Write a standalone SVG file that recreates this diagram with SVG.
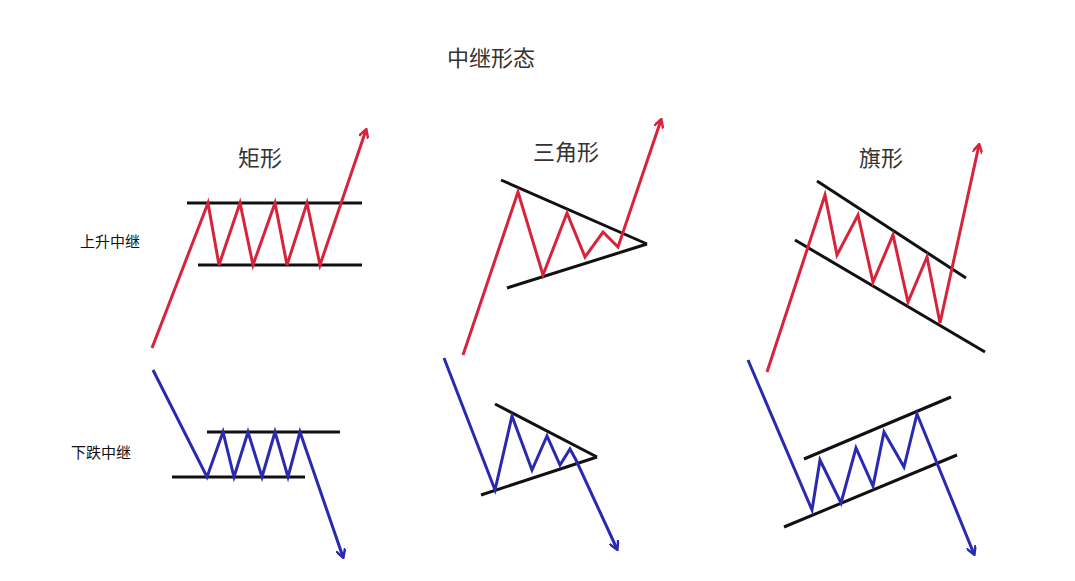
<svg xmlns="http://www.w3.org/2000/svg" width="1075" height="581" viewBox="0 0 1075 581">
<defs>
<style>
text{font-family:"Noto Sans CJK SC",sans-serif;fill:#333;text-anchor:middle}
.t{font-size:22px}.s{font-size:15px;fill:#111}
.k{stroke:#111;stroke-width:3;fill:none}
.r{stroke:#d8243a;stroke-width:3;fill:none;stroke-linejoin:miter}
.b{stroke:#2a2ab0;stroke-width:3;fill:none}
</style>
<marker id="ar" markerWidth="10" markerHeight="10" refX="8" refY="5" orient="auto" markerUnits="userSpaceOnUse" viewBox="0 0 10 10"><path d="M0,0 L9,5 L0,10" fill="none" stroke="#d8243a" stroke-width="2.5"/></marker>
<marker id="ab" markerWidth="10" markerHeight="10" refX="8" refY="5" orient="auto" markerUnits="userSpaceOnUse" viewBox="0 0 10 10"><path d="M0,0 L9,5 L0,10" fill="none" stroke="#2a2ab0" stroke-width="2.5"/></marker>
</defs>
<rect width="1075" height="581" fill="#fff"/>
<text class="t" x="491" y="66">中继形态</text>
<text class="t" x="260" y="166">矩形</text>
<text class="t" x="566" y="160">三角形</text>
<text class="t" x="881" y="166">旗形</text>
<text class="s" x="110" y="247">上升中继</text>
<text class="s" x="101" y="458">下跌中继</text>
<g id="rect-up">
<line class="k" x1="187" y1="203" x2="362" y2="203"/>
<line class="k" x1="198" y1="265" x2="362" y2="265"/>
<polyline class="r" marker-end="url(#ar)" points="152,348 208,203 219,265 240,203 253,265 275,203 287,265 307,203 320,265 366,130"/>
</g>
<g id="tri-up">
<line class="k" x1="501" y1="180" x2="647" y2="244"/>
<line class="k" x1="507" y1="288" x2="647" y2="244"/>
<polyline class="r" marker-end="url(#ar)" points="463,355 518,192 543,275 567,213 585,257 603,232 618,247 661,120"/>
</g>
<g id="flag-up">
<line class="k" x1="817" y1="181" x2="966" y2="278"/>
<line class="k" x1="795" y1="240" x2="985" y2="352"/>
<polyline class="r" marker-end="url(#ar)" points="767,372 825,195 837,255 858,215 873,282 893,235 908,302 927,257 940,323 979,145"/>
</g>
<g id="rect-down">
<line class="k" x1="207" y1="432" x2="340" y2="432"/>
<line class="k" x1="172" y1="477" x2="305" y2="477"/>
<polyline class="b" marker-end="url(#ab)" points="153,370 207,477 223,432 234,477 248,432 262,477 275,432 288,477 300,432 343,557"/>
</g>
<g id="tri-down">
<line class="k" x1="495" y1="404" x2="597" y2="457"/>
<line class="k" x1="481" y1="495" x2="597" y2="457"/>
<polyline class="b" marker-end="url(#ab)" points="444,358 495,490 512,416 532,470 547,436 560,465 570,449 576,460 617,549"/>
</g>
<g id="flag-down">
<line class="k" x1="804" y1="459" x2="951" y2="397"/>
<line class="k" x1="784" y1="527" x2="957" y2="455"/>
<polyline class="b" marker-end="url(#ab)" points="748,360 812,510 820,460 841,503 856,448 873,486 884,432 904,467 917,414 974,554"/>
</g>
</svg>
